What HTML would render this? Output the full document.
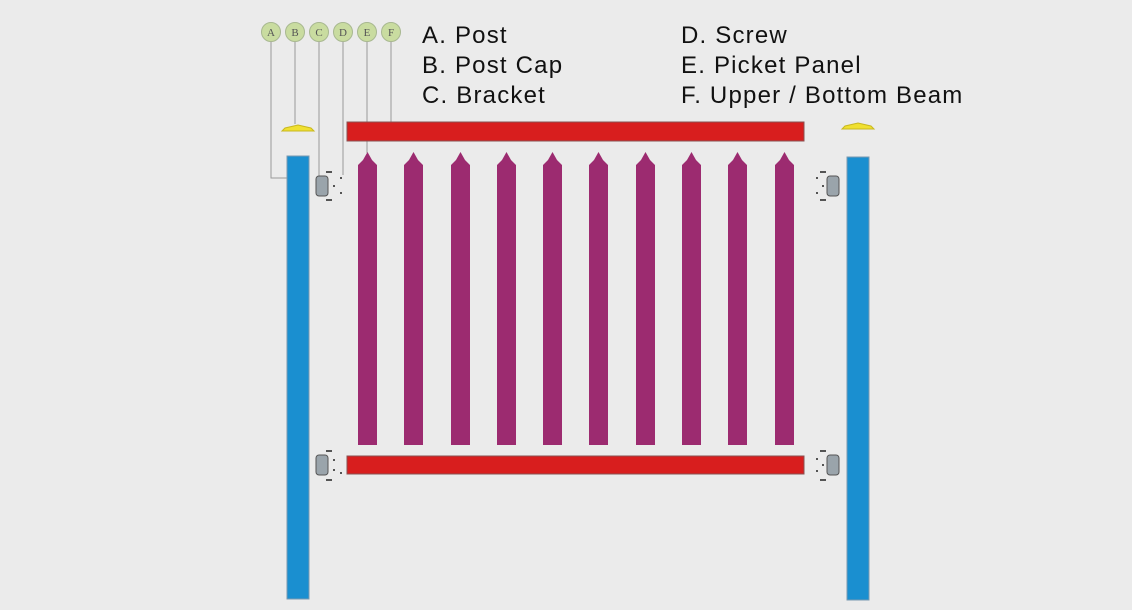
<!DOCTYPE html>
<html><head><style>
body{margin:0;background:#fff}
#c{position:relative;width:1132px;height:610px;background:#ebebeb;overflow:hidden;font-family:"Liberation Sans",sans-serif}
.t{position:absolute;font-size:24px;letter-spacing:1.2px;color:#111;line-height:30px;white-space:nowrap}
</style></head><body><div id="c">
<svg width="1132" height="610" style="position:absolute;left:0;top:0">
<g stroke="#9a9a9a" stroke-width="1" fill="none">
<polyline points="271,41 271,178 287,178"/>
<line x1="295" y1="41" x2="295" y2="124"/>
<line x1="319" y1="41" x2="319" y2="178"/>
<line x1="343" y1="41" x2="343" y2="175"/>
<line x1="367" y1="41" x2="367" y2="153"/>
<line x1="391" y1="41" x2="391" y2="122"/>
</g>
<g fill="#c9dca0" stroke="#a8b890" stroke-width="1">
<circle cx="271" cy="32" r="9.5"/><circle cx="295" cy="32" r="9.5"/><circle cx="319" cy="32" r="9.5"/>
<circle cx="343" cy="32" r="9.5"/><circle cx="367" cy="32" r="9.5"/><circle cx="391" cy="32" r="9.5"/>
</g>
<g font-family="Liberation Serif,serif" font-size="11" fill="#555" text-anchor="middle">
<text x="271" y="36">A</text><text x="295" y="36">B</text><text x="319" y="36">C</text>
<text x="343" y="36">D</text><text x="367" y="36">E</text><text x="391" y="36">F</text>
</g>
<rect x="287" y="156" width="22" height="443" fill="#1a8fd0" stroke="#7a9ab0" stroke-width="1"/>
<rect x="847" y="157" width="22" height="443" fill="#1a8fd0" stroke="#7a9ab0" stroke-width="1"/>
<polygon points="282,131 314,131 311,128 298,125 285,128" fill="#f0e030" stroke="#c8b820"/>
<polygon points="842,129 874,129 871,126 858,123 845,126" fill="#f0e030" stroke="#c8b820"/>
<rect x="347" y="122" width="457" height="19" fill="#d81e1e" stroke="#8a5050"/>
<rect x="347" y="456" width="457" height="18" fill="#d81e1e" stroke="#8a5050"/>
<g fill="#9c2b70">
<polygon points="358,165 358,445 377,445 377,165 372,160 367.5,152 363,160"/>
<polygon points="404,165 404,445 423,445 423,165 418,160 413.5,152 409,160"/>
<polygon points="451,165 451,445 470,445 470,165 465,160 460.5,152 456,160"/>
<polygon points="497,165 497,445 516,445 516,165 511,160 506.5,152 502,160"/>
<polygon points="543,165 543,445 562,445 562,165 557,160 552.5,152 548,160"/>
<polygon points="589,165 589,445 608,445 608,165 603,160 598.5,152 594,160"/>
<polygon points="636,165 636,445 655,445 655,165 650,160 645.5,152 641,160"/>
<polygon points="682,165 682,445 701,445 701,165 696,160 691.5,152 687,160"/>
<polygon points="728,165 728,445 747,445 747,165 742,160 737.5,152 733,160"/>
<polygon points="775,165 775,445 794,445 794,165 789,160 784.5,152 780,160"/>
</g>
<g fill="#9aa4ab" stroke="#555" stroke-width="1">
<rect x="316" y="176" width="12" height="20" rx="3"/>
<rect x="316" y="455" width="12" height="20" rx="3"/>
<rect x="827" y="176" width="12" height="20" rx="3"/>
<rect x="827" y="455" width="12" height="20" rx="3"/>
</g>
<g stroke="#222" stroke-width="1.5">
<line x1="326" y1="172" x2="332" y2="172"/><line x1="326" y1="200" x2="332" y2="200"/>
<line x1="340" y1="178" x2="342" y2="178"/><line x1="333" y1="186" x2="335" y2="186"/><line x1="340" y1="193" x2="342" y2="193"/>
<line x1="326" y1="451" x2="332" y2="451"/><line x1="326" y1="480" x2="332" y2="480"/>
<line x1="333" y1="460" x2="335" y2="460"/><line x1="333" y1="470" x2="335" y2="470"/><line x1="340" y1="473" x2="342" y2="473"/>
<line x1="820" y1="172" x2="826" y2="172"/><line x1="820" y1="200" x2="826" y2="200"/>
<line x1="816" y1="178" x2="818" y2="178"/><line x1="816" y1="193" x2="818" y2="193"/><line x1="822" y1="186" x2="824" y2="186"/>
<line x1="820" y1="451" x2="826" y2="451"/><line x1="820" y1="480" x2="826" y2="480"/>
<line x1="816" y1="459" x2="818" y2="459"/><line x1="816" y1="471" x2="818" y2="471"/><line x1="822" y1="465" x2="824" y2="465"/>
</g>
</svg>
<div class="t" style="left:422px;top:21px">A. Post<br>B. Post Cap<br>C. Bracket</div>
<div class="t" style="left:681px;top:21px">D. Screw<br>E. Picket Panel<br>F. Upper / Bottom Beam</div>
</div></body></html>
